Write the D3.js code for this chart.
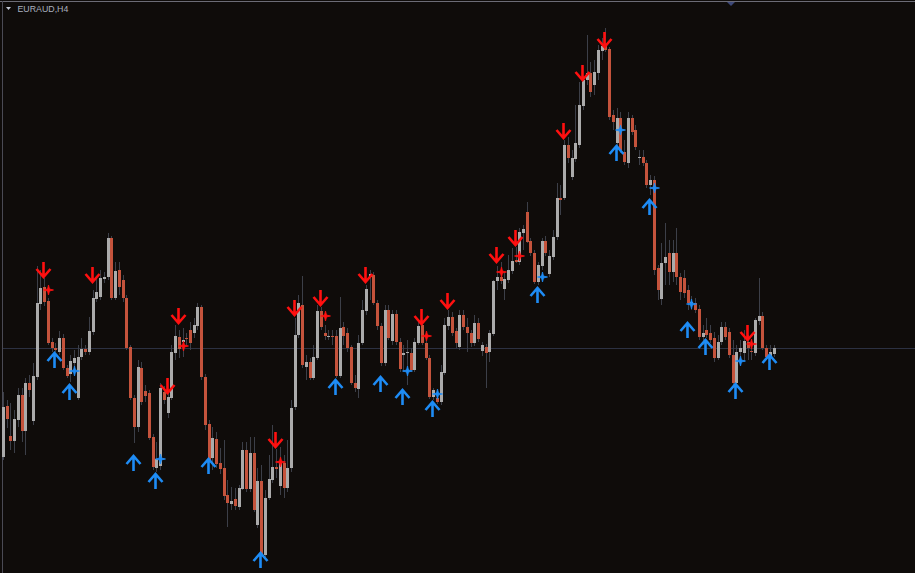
<!doctype html>
<html lang="en">
  <head>
    <meta charset="utf-8">
    <title>EURAUD,H4</title>
    <script type='text/javascript' src="https://d3js.org/d3.v7.min.js"></script>
    <style>
      html, body { margin: 0; padding: 0; background: #0f0c0a; overflow: hidden; }
      svg { display: block; }
    </style>
  </head>
  <body>
    <div class='visual'></div>
  </body>
  <script>
    const w = 915;
    const h = 573;

    // EURAUD H4 bars, oldest first
    const open = [
      1.6043,1.6094,1.6064,1.6059,1.6080,1.6105,1.6069,1.6117,1.6079,1.6123,
      1.6196,1.6213,1.6199,1.6158,1.6152,1.6148,1.6162,1.6132,1.6126,1.6137,
      1.6102,1.6143,1.6151,1.6148,1.6168,1.6201,1.6203,1.6221,1.6223,1.6262,
      1.6202,1.6230,1.6220,1.6202,1.6153,1.6102,1.6073,1.6132,1.6109,1.6107,
      1.6063,1.6032,1.6034,1.6108,1.6087,1.6102,1.6147,1.6163,1.6158,1.6162,
      1.6170,1.6167,1.6174,1.6193,1.6123,1.6076,1.6042,1.6061,1.6037,1.6032,
      1.6005,1.5996,1.6001,1.5993,1.6011,1.6050,1.6011,1.6047,1.5975,1.6019,
      1.5945,1.6002,1.6020,1.6033,1.6014,1.6037,1.6012,1.6032,1.6093,1.6165,
      1.6195,1.6133,1.6138,1.6122,1.6142,1.6189,1.6167,1.6163,1.6164,1.6164,
      1.6124,1.6173,1.6167,1.6153,1.6117,1.6111,1.6157,1.6189,1.6223,1.6225,
      1.6197,1.6174,1.6137,1.6190,1.6159,1.6186,1.6158,1.6145,1.6147,1.6147,
      1.6130,1.6157,1.6175,1.6157,1.6142,1.6103,1.6102,1.6098,1.6127,1.6174,
      1.6183,1.6169,1.6153,1.6185,1.6173,1.6167,1.6157,1.6177,1.6149,1.6153,
      1.6148,1.6166,1.6219,1.6223,1.6211,1.6220,1.6229,1.6240,1.6238,1.6267,
      1.6288,1.6259,1.6247,1.6218,1.6234,1.6259,1.6226,1.6243,1.6263,1.6302,
      1.6302,1.6355,1.6323,1.6341,1.6355,1.6394,1.6420,1.6427,1.6415,1.6427,
      1.6449,1.6454,1.6451,1.6385,1.6357,1.6382,1.6348,1.6337,1.6382,1.6370,
      1.6342,1.6343,1.6337,1.6315,1.6320,1.6232,1.6201,1.6237,1.6247,1.6228,
      1.6247,1.6223,1.6222,1.6210,1.6197,1.6197,1.6191,1.6163,1.6170,1.6167,
      1.6162,1.6142,1.6158,1.6173,1.6168,1.6145,1.6117,1.6148,1.6147,1.6158,
      1.6149,1.6147,1.6179,1.6184,1.6152,1.6143,1.6146
    ];
    const high = [
      1.6108,1.6100,1.6097,1.6090,1.6112,1.6112,1.6122,1.6125,1.6137,1.6234,
      1.6230,1.6222,1.6202,1.6162,1.6157,1.6169,1.6166,1.6135,1.6145,1.6150,
      1.6155,1.6162,1.6155,1.6183,1.6210,1.6222,1.6230,1.6228,1.6267,1.6264,
      1.6238,1.6238,1.6225,1.6205,1.6155,1.6105,1.6140,1.6138,1.6115,1.6110,
      1.6066,1.6058,1.6117,1.6114,1.6110,1.6155,1.6175,1.6170,1.6172,1.6167,
      1.6178,1.6182,1.6197,1.6195,1.6126,1.6080,1.6073,1.6068,1.6052,1.6060,
      1.6020,1.6013,1.6012,1.6015,1.6058,1.6058,1.6063,1.6063,1.6032,1.6035,
      1.6010,1.6045,1.6075,1.6051,1.6053,1.6045,1.6060,1.6100,1.6182,1.6205,
      1.6224,1.6145,1.6142,1.6155,1.6195,1.6193,1.6175,1.6170,1.6170,1.6170,
      1.6203,1.6178,1.6172,1.6155,1.6125,1.6165,1.6200,1.6215,1.6230,1.6228,
      1.6200,1.6177,1.6195,1.6195,1.6190,1.6190,1.6162,1.6155,1.6160,1.6152,
      1.6162,1.6178,1.6176,1.6160,1.6145,1.6112,1.6108,1.6135,1.6182,1.6190,
      1.6188,1.6172,1.6190,1.6190,1.6182,1.6170,1.6185,1.6182,1.6158,1.6156,
      1.6170,1.6220,1.6234,1.6238,1.6228,1.6245,1.6252,1.6253,1.6272,1.6275,
      1.6298,1.6262,1.6250,1.6238,1.6262,1.6264,1.6250,1.6270,1.6317,1.6315,
      1.6360,1.6363,1.6350,1.6395,1.6418,1.6424,1.6465,1.6438,1.6440,1.6455,
      1.6462,1.6472,1.6453,1.6390,1.6392,1.6388,1.6360,1.6388,1.6385,1.6375,
      1.6350,1.6350,1.6340,1.6325,1.6324,1.6235,1.6257,1.6277,1.6260,1.6260,
      1.6272,1.6227,1.6230,1.6215,1.6204,1.6202,1.6195,1.6175,1.6182,1.6175,
      1.6168,1.6165,1.6178,1.6178,1.6172,1.6160,1.6155,1.6160,1.6170,1.6165,
      1.6160,1.6182,1.6222,1.6188,1.6155,1.6155,1.6155
    ];
    const low = [
      1.6040,1.6072,1.6050,1.6047,1.6073,1.6058,1.6045,1.6103,1.6075,1.6120,
      1.6190,1.6194,1.6155,1.6148,1.6148,1.6145,1.6130,1.6122,1.6118,1.6132,
      1.6100,1.6140,1.6145,1.6145,1.6165,1.6198,1.6200,1.6217,1.6220,1.6200,
      1.6200,1.6205,1.6198,1.6150,1.6100,1.6057,1.6068,1.6095,1.6098,1.6060,
      1.6030,1.6028,1.6030,1.6096,1.6082,1.6100,1.6140,1.6142,1.6143,1.6155,
      1.6150,1.6162,1.6170,1.6120,1.6070,1.6039,1.6030,1.6032,1.6026,1.6000,
      1.5973,1.5990,1.5990,1.5990,1.6010,1.6008,1.6008,1.5988,1.5972,1.5944,
      1.5943,1.6000,1.6017,1.6022,1.6005,1.6002,1.6008,1.6028,1.6090,1.6162,
      1.6132,1.6120,1.6120,1.6120,1.6140,1.6170,1.6160,1.6160,1.6155,1.6122,
      1.6122,1.6155,1.6148,1.6115,1.6108,1.6102,1.6155,1.6185,1.6200,1.6195,
      1.6170,1.6134,1.6134,1.6160,1.6155,1.6155,1.6128,1.6128,1.6115,1.6128,
      1.6128,1.6155,1.6155,1.6140,1.6101,1.6100,1.6096,1.6095,1.6125,1.6170,
      1.6164,1.6152,1.6150,1.6170,1.6148,1.6153,1.6154,1.6158,1.6144,1.6112,
      1.6138,1.6164,1.6210,1.6216,1.6200,1.6217,1.6226,1.6237,1.6235,1.6250,
      1.6257,1.6244,1.6216,1.6215,1.6230,1.6244,1.6223,1.6240,1.6260,1.6285,
      1.6300,1.6337,1.6320,1.6338,1.6352,1.6390,1.6415,1.6403,1.6405,1.6420,
      1.6440,1.6448,1.6380,1.6370,1.6350,1.6347,1.6335,1.6332,1.6365,1.6350,
      1.6335,1.6334,1.6312,1.6305,1.6225,1.6200,1.6195,1.6215,1.6215,1.6218,
      1.6215,1.6200,1.6202,1.6190,1.6190,1.6187,1.6160,1.6155,1.6162,1.6157,
      1.6138,1.6140,1.6155,1.6160,1.6142,1.6115,1.6115,1.6135,1.6138,1.6140,
      1.6140,1.6144,1.6175,1.6150,1.6140,1.6140,1.6143
    ];
    const close = [
      1.6093,1.6081,1.6059,1.6081,1.6105,1.6069,1.6117,1.6110,1.6124,1.6197,
      1.6212,1.6198,1.6157,1.6152,1.6150,1.6162,1.6132,1.6124,1.6139,1.6142,
      1.6143,1.6151,1.6148,1.6169,1.6202,1.6208,1.6222,1.6223,1.6262,1.6202,
      1.6229,1.6213,1.6202,1.6152,1.6102,1.6073,1.6133,1.6098,1.6104,1.6062,
      1.6033,1.6041,1.6112,1.6100,1.6103,1.6148,1.6164,1.6151,1.6160,1.6161,
      1.6157,1.6175,1.6193,1.6123,1.6075,1.6040,1.6062,1.6036,1.6031,1.6004,
      1.5997,1.5999,1.5994,1.6012,1.6050,1.6011,1.6047,1.5990,1.6019,1.5945,
      1.6002,1.6021,1.6033,1.6031,1.6037,1.6012,1.6032,1.6092,1.6165,1.6197,
      1.6135,1.6138,1.6122,1.6143,1.6189,1.6173,1.6164,1.6164,1.6163,1.6124,
      1.6172,1.6164,1.6152,1.6117,1.6112,1.6157,1.6190,1.6211,1.6226,1.6197,
      1.6174,1.6137,1.6190,1.6162,1.6186,1.6158,1.6131,1.6147,1.6148,1.6130,
      1.6158,1.6174,1.6157,1.6142,1.6103,1.6110,1.6098,1.6128,1.6175,1.6183,
      1.6167,1.6157,1.6185,1.6173,1.6167,1.6157,1.6177,1.6161,1.6155,1.6147,
      1.6167,1.6219,1.6223,1.6219,1.6221,1.6230,1.6239,1.6238,1.6268,1.6271,
      1.6258,1.6247,1.6218,1.6235,1.6259,1.6247,1.6244,1.6263,1.6302,1.6300,
      1.6355,1.6342,1.6342,1.6357,1.6395,1.6420,1.6427,1.6408,1.6428,1.6450,
      1.6454,1.6450,1.6383,1.6378,1.6382,1.6350,1.6338,1.6382,1.6368,1.6353,
      1.6343,1.6337,1.6315,1.6320,1.6230,1.6210,1.6237,1.6243,1.6228,1.6247,
      1.6223,1.6208,1.6207,1.6197,1.6198,1.6190,1.6163,1.6167,1.6165,1.6160,
      1.6142,1.6158,1.6173,1.6163,1.6145,1.6117,1.6148,1.6152,1.6159,1.6152,
      1.6148,1.6180,1.6184,1.6152,1.6143,1.6148,1.6152
    ];

    // signal marks: [bar index, price]
    const sellArrows = [
      [11,1.6223],[24,1.6218],[44,1.6107],[47,1.6177],[73,1.6053],[78,1.6185],
      [85,1.6195],[97,1.6218],[112,1.6176],[119,1.6192],[132,1.6238],[137,1.6255],
      [150,1.6362],[155,1.6420],[161,1.6453],[199,1.6160]
    ];
    const buyArrows = [
      [14,1.6147],[18,1.6115],[35,1.6044],[41,1.6026],[55,1.6041],[69,1.5947],
      [89,1.6120],[101,1.6123],[107,1.6110],[115,1.6098],[143,1.6212],[164,1.6354],
      [173,1.6300],[183,1.6177],[188,1.6160],[196,1.6116],[205,1.6145]
    ];
    const sellStars = [
      [12,1.6210],[48,1.6154],[74,1.6038],[86,1.6184],[113,1.6164],[133,1.6228],
      [138,1.6244],[200,1.6156]
    ];
    const buyStars = [
      [19,1.6129],[42,1.6041],[108,1.6129],[116,1.6106],[144,1.6223],[165,1.6370],
      [174,1.6312],[184,1.6196],[197,1.6139]
    ];
    const levelPrice = 1.6152;
    const chartTitle = 'EURAUD,H4';

    const bars = open.map((o, i) => ({i: i, o: o, h: high[i], l: low[i], c: close[i]}));

    const x = d3.scaleLinear()
      .domain([0, bars.length - 1])
      .range([3.4, 774.2]);
    const y = d3.scaleLinear()
      .domain([1.5927, 1.6500])
      .range([h, 0]);

    const bodyLeft = (i) => Math.round(x(i) - 1.5);

    const svg = d3.select('.visual')
      .append('svg')
      .attr('width', w)
      .attr('height', h);

    svg.append('rect')
      .attr('width', w)
      .attr('height', h)
      .attr('fill', '#0f0c0a');

    // frame
    svg.append('line')
      .attr('x1', 0).attr('x2', w)
      .attr('y1', 1.5).attr('y2', 1.5)
      .attr('stroke', '#6c6c76');
    svg.append('line')
      .attr('x1', 2.5).attr('x2', 2.5)
      .attr('y1', 1).attr('y2', h)
      .attr('stroke', '#4a4a54');
    svg.append('path')
      .attr('d', 'M727,2 L735,2 L731,6 Z')
      .attr('fill', '#3d4878');

    // horizontal level
    svg.append('line')
      .attr('x1', 3).attr('x2', w)
      .attr('y1', Math.round(y(levelPrice)) + 0.5)
      .attr('y2', Math.round(y(levelPrice)) + 0.5)
      .attr('stroke', '#2c3142');

    // wicks
    svg.append('g')
      .selectAll('line')
      .data(bars)
      .enter()
      .append('line')
      .attr('x1', d => bodyLeft(d.i) + 1.5)
      .attr('x2', d => bodyLeft(d.i) + 1.5)
      .attr('y1', d => Math.round(y(d.h)))
      .attr('y2', d => Math.round(y(d.l)))
      .attr('stroke', '#3c3f48')
      .attr('stroke-width', 1);

    // bodies
    svg.append('g')
      .attr('shape-rendering', 'crispEdges')
      .selectAll('rect')
      .data(bars)
      .enter()
      .append('rect')
      .attr('x', d => bodyLeft(d.i))
      .attr('y', d => Math.round(y(Math.max(d.o, d.c))))
      .attr('width', 3)
      .attr('height', d => Math.max(1, Math.round(Math.abs(y(d.o) - y(d.c)))))
      .attr('fill', d => d.c < d.o ? '#c4533c' : '#ababab');

    // arrows
    const arrowDown = 'M0,-15 L0,-1 M-7,-8 L0,0 L7,-8';
    const arrowUp = 'M0,15 L0,1 M-7,8 L0,0 L7,8';
    const star = 'M0,-5 L1,-1 L5,0 L1,1 L0,5 L-1,1 L-5,0 L-1,-1 Z';

    svg.append('g')
      .selectAll('path')
      .data(sellArrows)
      .enter()
      .append('path')
      .attr('transform', d => 'translate(' + (bodyLeft(d[0]) + 0.5) + ',' + y(d[1]) + ')')
      .attr('d', arrowDown)
      .attr('fill', 'none')
      .attr('stroke', '#ff1010')
      .attr('stroke-width', 2.6);

    svg.append('g')
      .selectAll('path')
      .data(buyArrows)
      .enter()
      .append('path')
      .attr('transform', d => 'translate(' + (bodyLeft(d[0]) + 0.5) + ',' + y(d[1]) + ')')
      .attr('d', arrowUp)
      .attr('fill', 'none')
      .attr('stroke', '#1e8cf5')
      .attr('stroke-width', 2.6);

    svg.append('g')
      .selectAll('path')
      .data(sellStars)
      .enter()
      .append('path')
      .attr('transform', d => 'translate(' + (bodyLeft(d[0]) + 1.5) + ',' + y(d[1]) + ')')
      .attr('d', star)
      .attr('fill', '#ff1010')
      .attr('stroke', '#ff1010')
      .attr('stroke-width', 0.8);

    svg.append('g')
      .selectAll('path')
      .data(buyStars)
      .enter()
      .append('path')
      .attr('transform', d => 'translate(' + (bodyLeft(d[0]) + 1.5) + ',' + y(d[1]) + ')')
      .attr('d', star)
      .attr('fill', '#1e8cf5')
      .attr('stroke', '#1e8cf5')
      .attr('stroke-width', 0.8);

    // title
    svg.append('path')
      .attr('d', 'M6,7 L11,7 L8.5,10 Z')
      .attr('fill', '#c4cad6');
    svg.append('text')
      .attr('x', 17.5)
      .attr('y', 11.5)
      .attr('font-family', 'Liberation Sans, Arial, sans-serif')
      .attr('font-size', '8.8px')
      .attr('fill', '#a9b0bf')
      .text(chartTitle);
  </script>
</html>
